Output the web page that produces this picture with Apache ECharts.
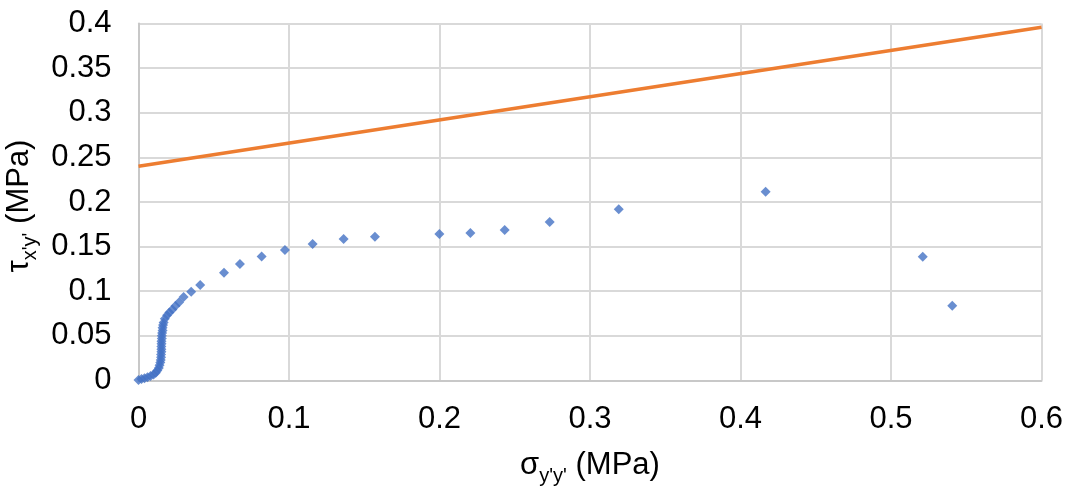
<!DOCTYPE html>
<html>
<head>
<meta charset="utf-8">
<script src="https://cdn.jsdelivr.net/npm/echarts@6/dist/echarts.min.js"></script>
<style>
  html, body { margin: 0; padding: 0; background: #fff; }
  #chart { width: 1068px; height: 486px; }
</style>
</head>
<body>
<div id="chart"></div>
<script>
// Measured stress path: normal stress sigma_y'y' (MPa) vs shear stress tau_x'y' (MPa)
const sigmaValues = [
  0, 0.002, 0.004, 0.006, 0.008, 0.010, 0.0115, 0.0125, 0.0135, 0.014,
  0.0145, 0.0148, 0.015, 0.015, 0.0152, 0.0152, 0.0152, 0.0153, 0.0153, 0.0155,
  0.0155, 0.0157, 0.016, 0.016, 0.0163, 0.0167, 0.0175, 0.019, 0.0205, 0.0225,
  0.0245, 0.027, 0.030, 0.035, 0.041, 0.0568, 0.0674, 0.0818, 0.0973, 0.1157,
  0.1363, 0.1571, 0.1999, 0.2205, 0.2433, 0.2732, 0.3191, 0.4167, 0.5211, 0.5407
];
const tauValues = [
  0.0005, 0.0015, 0.0025, 0.0035, 0.0048, 0.0065, 0.0085, 0.011, 0.014, 0.017,
  0.020, 0.023, 0.026, 0.029, 0.032, 0.035, 0.038, 0.041, 0.044, 0.047,
  0.050, 0.053, 0.056, 0.059, 0.062, 0.065, 0.069, 0.073, 0.076, 0.0795,
  0.0835, 0.0875, 0.0935, 0.0995, 0.107, 0.1207, 0.1305, 0.139, 0.1462, 0.1529,
  0.1585, 0.1611, 0.1641, 0.1653, 0.1686, 0.1776, 0.1918, 0.2116, 0.1387, 0.0837
];

// Failure envelope: tau = c + sigma * tan(phi)
const envelopeSigma = [0, 0.6];
const envelopeTau = [0.24, 0.396];

// Axis ticks
const xTicks = { min: 0, max: 0.6, step: 0.1 };
const yTicks = { min: 0, max: 0.4, step: 0.05 };

const pathPoints = sigmaValues.map((s, i) => [s, tauValues[i]]);
const envelopePoints = envelopeSigma.map((s, i) => [s, envelopeTau[i]]);

const FONT = '"Liberation Sans", Arial, sans-serif';
const gridColor = '#D9D9D9';

const chart = echarts.init(document.getElementById('chart'), null, { renderer: 'canvas' });
chart.setOption({
  animation: false,
  backgroundColor: '#ffffff',
  grid: {
    left: 138.5, right: 26.5, top: 23.6, bottom: 105.6,
    containLabel: false, outerBoundsMode: 'none'
  },
  xAxis: {
    type: 'value',
    min: xTicks.min, max: xTicks.max, interval: xTicks.step,
    axisLine: { show: true, lineStyle: { color: '#C8C8C8', width: 2 } },
    axisTick: { show: false },
    splitLine: { show: true, lineStyle: { color: gridColor, width: 2 } },
    axisLabel: { color: '#000', fontFamily: FONT, fontSize: 31, margin: 24 },
    name: "{m|σ}{s|y'y'}{m| (MPa)}",
    nameLocation: 'middle',
    nameGap: 64,
    nameTextStyle: {
      rich: {
        m: { fontFamily: FONT, fontSize: 31, color: '#000', lineHeight: 42, verticalAlign: 'middle' },
        s: { fontFamily: FONT, fontSize: 20, color: '#000', lineHeight: 42, verticalAlign: 'bottom' }
      }
    }
  },
  yAxis: {
    type: 'value',
    min: yTicks.min, max: yTicks.max, interval: yTicks.step,
    axisLine: { show: true, lineStyle: { color: '#C8C8C8', width: 2 } },
    axisTick: { show: false },
    splitLine: { show: true, lineStyle: { color: gridColor, width: 2 } },
    axisLabel: { color: '#000', fontFamily: FONT, fontSize: 31, margin: 27 },
    name: "{m|τ}{s|x'y'}{m| (MPa)}",
    nameLocation: 'middle',
    nameGap: 94,
    nameRotate: 90,
    nameTextStyle: {
      padding: [0, 8, 0, 0],
      rich: {
        m: { fontFamily: FONT, fontSize: 31, color: '#000', lineHeight: 42, verticalAlign: 'middle' },
        s: { fontFamily: FONT, fontSize: 20, color: '#000', lineHeight: 42, verticalAlign: 'bottom' }
      }
    }
  },
  series: [
    {
      name: 'Envelope',
      type: 'line',
      data: envelopePoints,
      showSymbol: false,
      lineStyle: { color: '#ED7D31', width: 3.5 },
      z: 2
    },
    {
      name: 'Stress path',
      type: 'scatter',
      data: pathPoints,
      symbol: 'diamond',
      symbolSize: 10,
      itemStyle: { color: '#4472C4' },
      z: 3
    }
  ]
});
</script>
</body>
</html>
